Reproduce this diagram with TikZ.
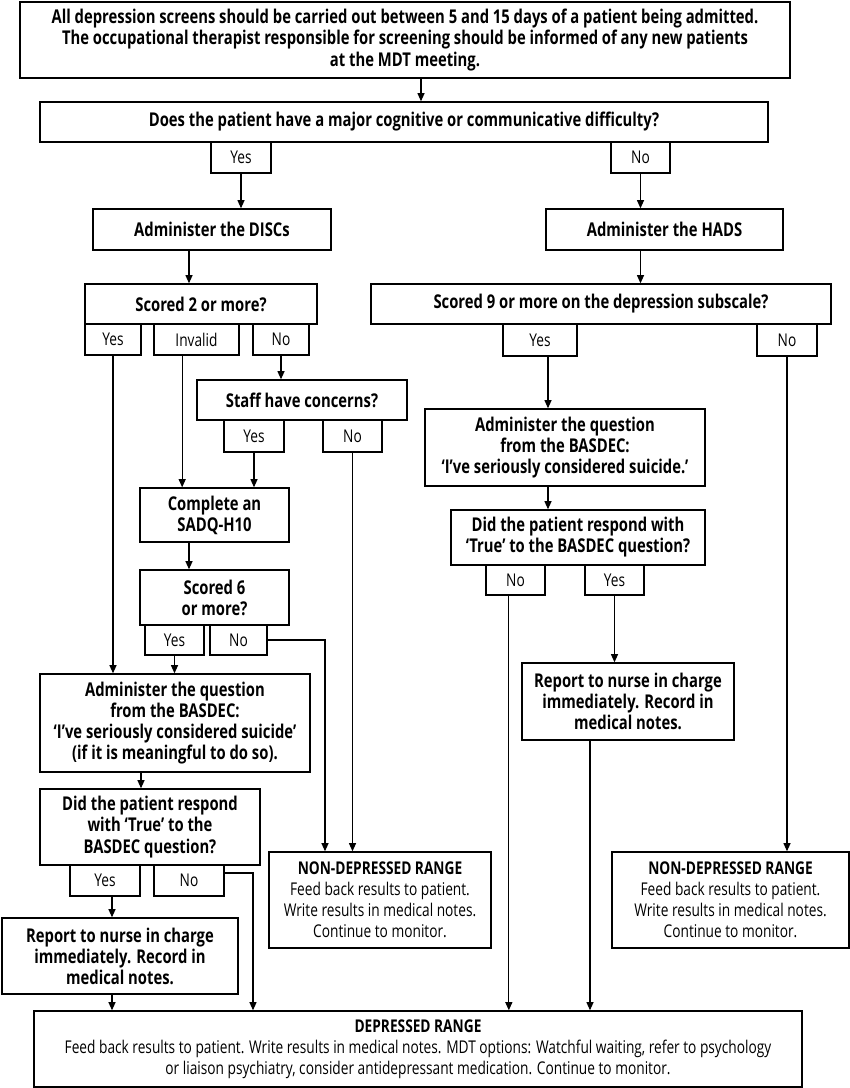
\documentclass[tikz,border=0pt]{standalone}
\usepackage{fontspec}
\setmainfont{Open Sans}[FakeStretch=0.78]
\usetikzlibrary{arrows.meta}

\begin{document}
\begin{tikzpicture}[x=0.03cm,y=-0.03cm,line width=1pt,>={Triangle[length=7pt,width=6pt]},
  stage/.style={draw,line width=1.2pt,align=center,inner sep=2pt,
    font=\fontsize{16.2}{18}\selectfont\bfseries},
  outcome/.style={stage,font=\fontsize{15}{18}\selectfont},
  answer/.style={draw,line width=1.2pt,inner sep=0pt,minimum height=0.93cm,
    font=\fontsize{15}{16}\selectfont}]
\useasboundingbox (0,0) rectangle (850,1088);
% entry
\node[stage,minimum width=23.1cm,minimum height=2.28cm](intro) at (405,40){All depression screens should be carried out between 5 and 15 days of a patient being admitted.\\The occupational therapist responsible for screening should be informed of any new patients\\at the MDT meeting.};
\node[stage,minimum width=21.84cm,minimum height=1.2cm](cogn) at (404,122){Does the patient have a major cognitive or communicative difficulty?};
\node[answer,minimum width=1.8cm](cyes) at (241,157.5){Yes};
\node[answer,minimum width=1.77cm](cno) at (640.5,157.5){No};
% left branch
\node[stage,minimum width=7.14cm,minimum height=1.23cm](discs) at (212,229.5){Administer the DISCs};
\node[stage,minimum width=6.96cm,minimum height=1.2cm](sc2) at (201,304){Scored 2 or more?};
\node[answer,minimum width=1.68cm](sc2yes) at (113,339.5){Yes};
\node[answer,minimum width=2.55cm](sc2inv) at (196.5,339.5){Invalid};
\node[answer,minimum width=1.68cm](sc2no) at (281,339.5){No};
\node[stage,minimum width=6.3cm,minimum height=1.2cm](staff) at (302,400){Staff have concerns?};
\node[answer,minimum width=1.8cm,minimum height=0.96cm](stfyes) at (254,436){Yes};
\node[answer,minimum width=1.77cm,minimum height=0.96cm](stfno) at (352.5,436){No};
\node[stage,minimum width=4.47cm,minimum height=1.62cm](sadq) at (214.5,515){Complete an\\SADQ-H10};
\node[stage,minimum width=4.47cm,minimum height=1.65cm](sc6) at (214.5,597.5){Scored 6\\or more?};
\node[answer,minimum width=1.77cm,minimum height=0.9cm](sc6yes) at (174.5,640){Yes};
\node[answer,minimum width=1.71cm,minimum height=0.9cm](sc6no) at (238.5,640){No};
\node[stage,minimum width=8.1cm,minimum height=2.94cm](basL) at (175,723){Administer the question\\from the BASDEC:\\‘I’ve seriously considered suicide’\\(if it is meaningful to do so).};
\node[stage,minimum width=6.6cm,minimum height=2.28cm](trueL) at (150,827){Did the patient respond\\with ‘True’ to the\\BASDEC question?};
\node[answer,minimum width=2.1cm](tLyes) at (105,880.5){Yes};
\node[answer,minimum width=2.1cm](tLno) at (189,880.5){No};
\node[stage,minimum width=7.08cm,minimum height=2.28cm](repL) at (120,956){Report to nurse in charge\\immediately. Record in\\medical notes.};
\node[outcome,minimum width=6.66cm,minimum height=2.88cm](nondepC) at (380,900){\textbf{NON-DEPRESSED RANGE}\\Feed back results to patient.\\Write results in medical notes.\\Continue to monitor.};
% right branch
\node[stage,minimum width=7.11cm,minimum height=1.23cm](hads) at (664.5,229.5){Administer the HADS};
\node[stage,minimum width=13.8cm,minimum height=1.2cm](sc9) at (601,304){Scored 9 or more on the depression subscale?};
\node[answer,minimum width=2.22cm,minimum height=0.96cm](s9yes) at (540,340){Yes};
\node[answer,minimum width=1.8cm,minimum height=0.96cm](s9no) at (787,340){No};
\node[stage,minimum width=8.4cm,minimum height=2.31cm](basR) at (565,447.5){Administer the question\\from the BASDEC:\\‘I’ve seriously considered suicide.’};
\node[stage,minimum width=7.62cm,minimum height=1.65cm](trueR) at (578,537.5){Did the patient respond with\\‘True’ to the BASDEC question?};
\node[answer,minimum width=1.77cm,minimum height=0.9cm](tRno) at (515.5,580){No};
\node[answer,minimum width=1.77cm,minimum height=0.9cm](tRyes) at (614.5,580){Yes};
\node[stage,minimum width=6.36cm,minimum height=2.31cm](repR) at (628,701.5){Report to nurse in charge\\immediately. Record in\\medical notes.};
\node[outcome,minimum width=7.11cm,minimum height=2.88cm](nondepR) at (730.5,900){\textbf{NON-DEPRESSED RANGE}\\Feed back results to patient.\\Write results in medical notes.\\Continue to monitor.};
% end
\node[outcome,minimum width=23.04cm,minimum height=2.28cm](dep) at (418,1049){\textbf{DEPRESSED RANGE}\\Feed back results to patient. Write results in medical notes. MDT options: Watchful waiting, refer to psychology\\or liaison psychiatry, consider antidepressant medication. Continue to monitor.};
% connectors
\draw[->]([xshift=0.48cm]intro.south)--([xshift=0.48cm]intro.south |- cogn.north);
\draw[->](cyes.south)--(cyes.south |- discs.north);
\draw[->](cno.south)--(cno.south |- hads.north);
\draw[->]([xshift=-0.69cm]discs.south)--([xshift=-0.69cm]discs.south |- sc2.north);
\draw[->](hads.south -| cno)--(cno |- sc9.north);
\draw[->](sc2yes.south)--(sc2yes.south |- basL.north);
\draw[->]([xshift=-0.43cm]sc2inv.south)--([xshift=-0.43cm]sc2inv.south |- sadq.north);
\draw[->](sc2no.south)--(sc2no.south |- staff.north);
\draw[->](stfyes.south)--(stfyes.south |- sadq.north);
\draw[->](stfno.south)--(stfno.south |- nondepC.north);
\draw[->]([xshift=-0.765cm]sadq.south)--([xshift=-0.765cm]sadq.south |- sc6.north);
\draw[->](sc6yes.south)--(sc6yes.south |- basL.north);
\draw[->](sc6no.east)-|([xshift=-1.65cm]nondepC.north);
\draw[->]([xshift=-1.02cm]basL.south)--([xshift=-1.02cm]basL.south |- trueL.north);
\draw[->]([xshift=0.21cm]tLyes.south)--([xshift=0.21cm]tLyes.south |- repL.north);
\draw[->]([xshift=-0.24cm]repL.south)--([xshift=-0.24cm]repL.south |- dep.north);
\draw[->]([yshift=0.225cm]tLno.east)-|([xshift=-4.95cm]dep.north);
\draw[->]([xshift=0.24cm]s9yes.south)--([xshift=0.24cm]s9yes.south |- basR.north);
\draw[->]([xshift=-0.51cm]basR.south)--([xshift=-0.51cm]basR.south |- trueR.north);
\draw[->]([xshift=-0.2cm]tRno.south)--([xshift=-0.2cm]tRno.south |- dep.north);
\draw[->](tRyes.south)--(tRyes.south |- repR.north);
\draw[->]([xshift=-1.14cm]repR.south)--([xshift=-1.14cm]repR.south |- dep.north);
\draw[->](s9no.south)--(s9no.south |- nondepR.north);
\end{tikzpicture}
\end{document}
